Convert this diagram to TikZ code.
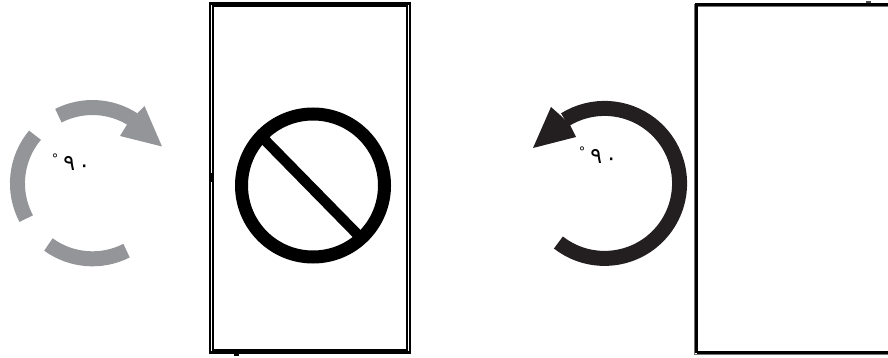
\documentclass[tikz,border=0pt]{standalone}
\usepackage{fontspec}
\TeXXeTstate=1
\newfontfamily\arabicfont[Script=Arabic]{DejaVu Sans}
\definecolor{ringgray}{HTML}{939598}
\definecolor{ringdark}{HTML}{231F20}
\newcommand{\ninety}{\beginR\beginL{\fontsize{22}{24}\selectfont ٩\hspace{3pt}\raisebox{-1.5pt}{٠}}\endL\hspace{5pt}\raisebox{7pt}{\fontsize{13}{14}\selectfont °}\endR}
\tikzset{
  ringarc/.style={line width=15pt,line cap=butt},
  label90/.style={font=\arabicfont,inner sep=0pt,text=black},
  frameout/.style={draw=black,line width=2.4pt,fill=none},
  framein/.style={draw=black,line width=1.2pt,fill=none}
}
\begin{document}
\begin{tikzpicture}[x=1pt,y=-1pt]
\useasboundingbox (0,0) rectangle (888,358);
% left rotation symbol
\draw[ringarc,ringgray] (35,135.2) arc[start angle=140,end angle=208,x radius=75,y radius=-75];
\draw[ringarc,ringgray] (48.4,244.5) arc[start angle=234,end angle=297,x radius=75,y radius=-75];
\draw[ringarc,ringgray] (58.4,115.7) arc[start angle=117,end angle=57,x radius=75,y radius=-75];
\fill[ringgray] (162,146.5) -- (144.5,106) -- (137,113.5) -- (128,123) -- (120,136) -- cycle;
\node[label90] (lefttext) at (71,163) {\ninety};
% left panel
\draw[frameout] (210,3.5) rectangle (410,352.5);
\draw[framein] (213,6) rectangle (407,350);
\fill[black] (210,173) rectangle (213,182);
\fill[black] (234,352) rectangle (239,356);
\draw[black,line width=13pt] (313,185.5) circle[radius=71.5];
\draw[black,line width=10.5pt] (258,133) -- (362,239);
% right rotation symbol
\draw[ringarc,ringdark] (558.4,242.5) arc[start angle=232,end angle=482,x radius=75,y radius=-75];
\fill[ringdark] (533,148) -- (551,107) -- (560,115) -- (570,125) -- (576,137) -- cycle;
\node[label90] (righttext) at (598,156) {\ninety};
% right panel
\draw[black,line width=3pt] (696.5,353) -- (696.5,4.5) -- (888,4.5);
\draw[black,line width=3pt] (696.5,352) -- (888,352);
\draw[black!55,line width=0.8pt] (694.5,4) -- (694.5,354.5) -- (888,354.5);
\draw[black!55,line width=0.8pt] (698,6.8) -- (888,6.8);
\fill[black!70] (866,1) rectangle (871,3.5);
\end{tikzpicture}
\end{document}
